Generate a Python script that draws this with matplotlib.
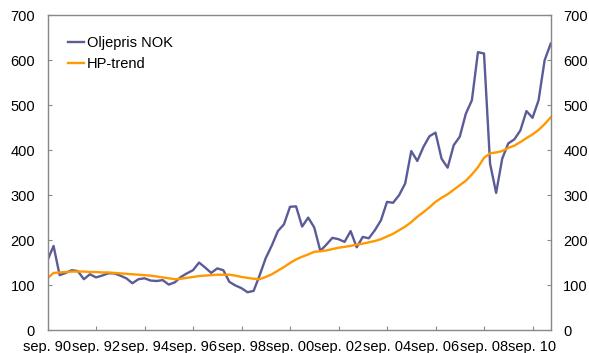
import matplotlib
matplotlib.use("Agg")
import matplotlib.pyplot as plt

plt.rcParams['font.family'] = ['Liberation Sans', 'DejaVu Sans']

# Quarterly, sep. 1990 - jun. 2011
oil_nok = [155, 187, 122, 127, 133, 131, 113, 124, 117, 121,
           126, 126, 121, 115, 104, 113, 115, 110, 109, 111,
           101, 106, 118, 126, 133, 150, 139, 127, 137, 133,
           107, 99, 93, 84, 87, 122, 160, 188, 220, 235,
           274, 275, 230, 250, 228, 176, 190, 205, 202, 196,
           220, 184, 207, 204, 222, 244, 285, 283, 300, 326,
           398, 376, 407, 431, 439, 381, 361, 411, 430, 481,
           511, 618, 615, 370, 305, 381, 415, 424, 444, 487,
           472, 511, 600, 637]

hp_trend = [115, 127, 128, 129, 130, 130, 130, 129, 129, 128,
            128, 127, 126, 125, 124, 123, 122, 121, 119, 117,
            115, 113, 114, 116, 118, 120, 121, 122, 123, 123,
            123, 121, 118, 116, 114, 113, 118, 124, 132, 140,
            149, 157, 163, 168, 174, 175, 177, 180, 183, 185,
            187, 190, 192, 195, 198, 202, 208, 214, 222, 230,
            240, 252, 262, 273, 285, 294, 302, 312, 322, 332,
            346, 362, 383, 393, 395, 398, 405, 410, 418, 427,
            435, 445, 458, 473]

tick_labels = ["sep. 90", "sep. 92", "sep. 94", "sep. 96", "sep. 98", "sep. 00",
               "sep. 02", "sep. 04", "sep. 06", "sep. 08", "sep. 10"]
y_ticks = [0, 100, 200, 300, 400, 500, 600, 700]

x = list(range(len(oil_nok)))

fig = plt.figure(figsize=(5.89, 3.53), dpi=100)
ax = fig.add_axes([47.5/589, 1-330/353, (550.7-47.5)/589, (330-15.3)/353])

ax.plot(x, oil_nok, color='#5B5B98', lw=1.7, label='Oljepris NOK', solid_joinstyle='round')
ax.plot(x, hp_trend, color='#FF9900', lw=1.7, label='HP-trend', solid_joinstyle='round')

ax.set_xlim(0, len(x) - 1)
ax.set_ylim(0, 700)
ax.set_yticks(y_ticks)
ax.set_xticks(list(range(0, len(x), 8)))
ax.set_xticklabels(tick_labels)

for s in ax.spines.values():
    s.set_color('#888888')
    s.set_linewidth(1.0)

ax.tick_params(axis='both', direction='in', length=3, color='#888888', labelsize=10.5)
ax.tick_params(axis='y', left=True, right=True, labelleft=True, labelright=True, pad=9)
ax.tick_params(axis='x', pad=7)

leg = ax.legend(loc='upper left', bbox_to_anchor=(0.041, 0.935), frameon=False,
                fontsize=10.5, handlelength=1.1, handletextpad=0.2,
                labelspacing=0.5, borderpad=0, borderaxespad=0)

fig.savefig('out.png', dpi=100)
